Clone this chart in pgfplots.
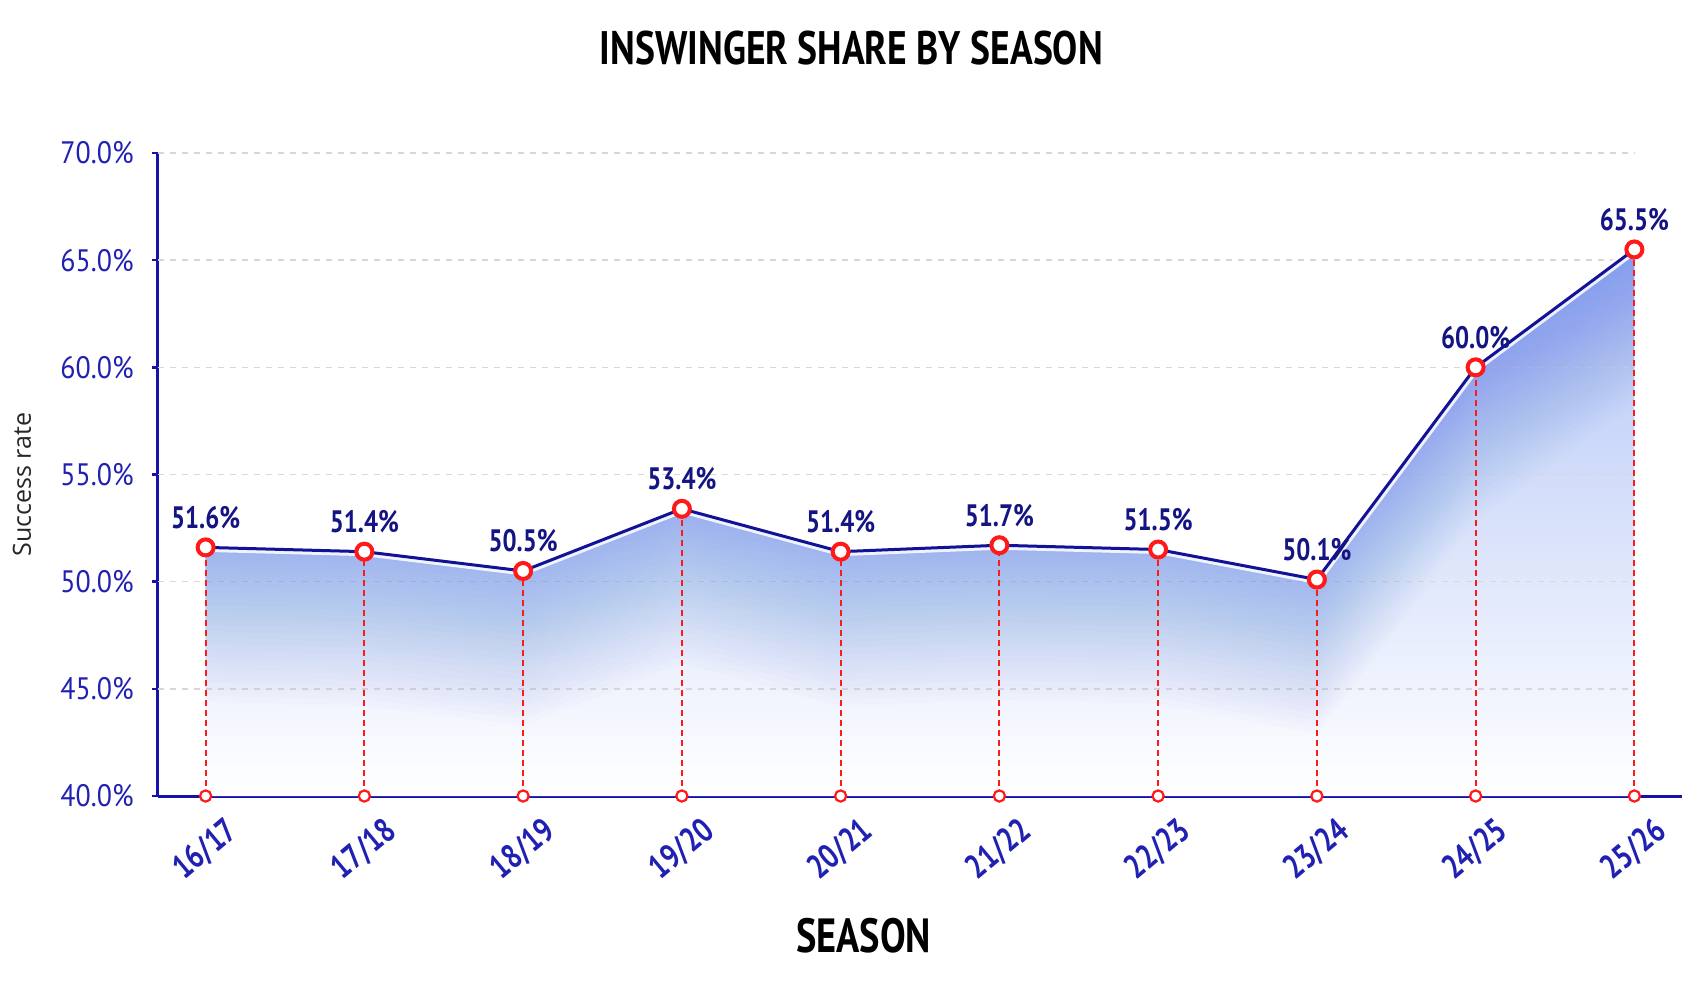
\documentclass[border=0pt]{standalone}
\usepackage{pgfplots}
\usepackage{pgfplotstable}
\pgfplotsset{compat=1.18}
\usepackage{fontspec}
\setmainfont{PT Sans}
\newfontfamily\cond[FakeStretch=0.8]{PT Sans}
\newfontfamily\tickfont[FakeStretch=0.9]{PT Sans}
\newfontfamily\ylabfont{Open Sans}
\definecolor{navy}{RGB}{20,20,130}
\definecolor{tickblue}{RGB}{32,32,178}
\definecolor{axisblue}{RGB}{20,20,168}
\definecolor{lineblue}{RGB}{18,18,150}
\definecolor{mred}{RGB}{255,25,25}
\definecolor{gridgray}{RGB}{215,215,215}
\definecolor{fillblue}{RGB}{178,196,246}
\definecolor{glowblue}{RGB}{55,105,238}
\pgfplotstableread{
x y
0 51.6
1 51.4
2 50.5
3 53.4
4 51.4
5 51.7
6 51.5
7 50.1
8 60.0
9 65.5
}\datatable
% same values, forward along the line (s=0) and back (s=1), for glow bands
\pgfplotstableread{
x y s
0 51.6 0
1 51.4 0
2 50.5 0
3 53.4 0
4 51.4 0
5 51.7 0
6 51.5 0
7 50.1 0
8 60.0 0
9 65.5 0
9 65.5 1
8 60.0 1
7 50.1 1
6 51.5 1
5 51.7 1
4 51.4 1
3 53.4 1
2 50.5 1
1 51.4 1
0 51.6 1
}\bandtable
\begin{document}
\begin{tikzpicture}
\path[fill=white, use as bounding box] (-79pt,-98pt) rectangle (774.5pt,398pt);
\begin{axis}[
  at={(0,0)}, anchor=south west,
  scale only axis, width=762pt, height=321.5pt,
  xmin=-0.3, xmax=9.3, ymin=40, ymax=70,
  axis x line*=bottom, axis y line*=left,
  axis line style={line width=1.5pt, draw=axisblue},
  clip=false,
  /pgf/number format/assume math mode=true,
  xtick={0,...,9},
  xticklabels={16/17,17/18,18/19,19/20,20/21,21/22,22/23,23/24,24/25,25/26},
  xtick style={draw=none},
  xticklabel style={font=\cond\bfseries\fontsize{17}{18}\selectfont, text=tickblue, yshift=-24pt, rotate=40, anchor=center},
  ytick={40,45,...,70},
  yticklabel={\pgfmathprintnumber[fixed,fixed zerofill,precision=1]{\tick}\%},
  yticklabel style={font=\tickfont\fontsize{15.5}{16}\selectfont, text=tickblue, anchor=east, inner sep=0pt, xshift=-9pt},
  ytick style={draw=axisblue, line width=1.2pt},
  tick align=outside, major tick length=3pt,
  title={INSWINGER SHARE BY SEASON},
  title style={at={(axis description cs:0.455,1.145)}, anchor=center, font=\cond\bfseries\fontsize{23.5}{24}\selectfont, text=black},
  xlabel={SEASON},
  xlabel style={at={(axis description cs:0.463,-0.218)}, anchor=center, font=\cond\bfseries\fontsize{24}{25}\selectfont, text=black},
  ylabel={Success rate},
  ylabel style={at={(axis description cs:-0.0892,0.484)}, anchor=center, font=\ylabfont\fontsize{12.5}{13}\selectfont, text=black!85},
]
% base gradient fill
\addplot[draw=none, top color=fillblue, bottom color=white, forget plot]
  coordinates {(0,40) (0,51.6) (1,51.4) (2,50.5) (3,53.4) (4,51.4) (5,51.7) (6,51.5) (7,50.1) (8,60.0) (9,65.5) (9,40)} -- cycle;
% grid lines
\draw[gridgray, line width=0.8pt, dash pattern=on 3pt off 3pt] (axis cs:-0.3,45) -- (axis cs:9,45);
\draw[gridgray, line width=0.8pt, dash pattern=on 3pt off 3pt] (axis cs:-0.3,50) -- (axis cs:9,50);
\draw[gridgray, line width=0.8pt, dash pattern=on 3pt off 3pt] (axis cs:-0.3,55) -- (axis cs:9,55);
\draw[gridgray, line width=0.8pt, dash pattern=on 3pt off 3pt] (axis cs:-0.3,60) -- (axis cs:9,60);
\draw[gridgray, line width=0.8pt, dash pattern=on 3pt off 3pt] (axis cs:-0.3,65) -- (axis cs:9,65);
\draw[gridgray, line width=0.8pt, dash pattern=on 3pt off 3pt] (axis cs:-0.3,70) -- (axis cs:9,70);
% soft glow following the line (many thin translucent bands)
\pgfplotsinvokeforeach{1,...,24}{
  \addplot[draw=none, fill=glowblue, fill opacity=0.015, forget plot]
    table[x=x, y expr=\thisrow{y}-0.3*#1*\thisrow{s}] {\bandtable} -- cycle;
}
% red dashed drop lines
\addplot[mred, line width=0.9pt, dash pattern=on 3pt off 2pt, unbounded coords=jump, forget plot]
  coordinates {(0,40) (0,51.6) (0,nan) (1,40) (1,51.4) (1,nan) (2,40) (2,50.5) (2,nan) (3,40) (3,53.4) (3,nan) (4,40) (4,51.4) (4,nan) (5,40) (5,51.7) (5,nan) (6,40) (6,51.5) (6,nan) (7,40) (7,50.1) (7,nan) (8,40) (8,60.0) (8,nan) (9,40) (9,65.5)};
% halo
\addplot[white, line width=4.5pt, opacity=0.85, forget plot] table[x=x,y=y] {\datatable};
% main line
\addplot[lineblue, line width=1.5pt, mark=*, mark size=4pt,
  mark options={draw=mred, fill=white, line width=2pt},
  point meta=explicit,
  nodes near coords={\pgfmathprintnumber[fixed,fixed zerofill,precision=1]{\pgfplotspointmeta}\%},
  every node near coord/.append style={font=\cond\bfseries\fontsize{15.5}{16}\selectfont, text=navy, anchor=center, yshift=15pt}
] table[x=x,y=y,meta=y] {\datatable};
% small markers on axis
\addplot[only marks, mark=*, mark size=2.8pt, mark options={draw=mred, fill=white, line width=1.1pt}]
  coordinates {(0,40) (1,40) (2,40) (3,40) (4,40) (5,40) (6,40) (7,40) (8,40) (9,40)};
\end{axis}
\end{tikzpicture}
\end{document}
